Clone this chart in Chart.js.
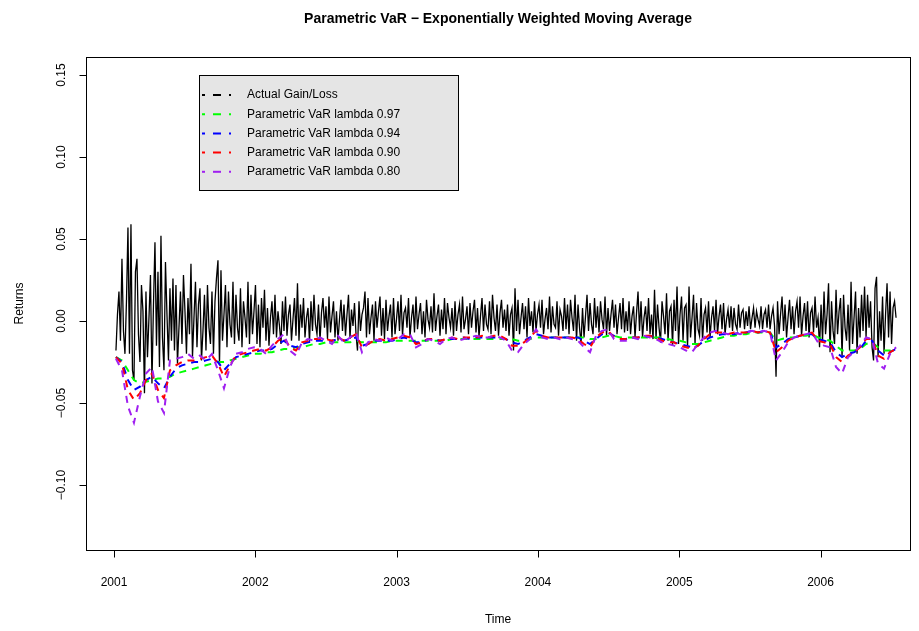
<!DOCTYPE html>
<html>
<head>
<meta charset="utf-8">
<script src="https://cdn.jsdelivr.net/npm/chart.js@4"></script>
<style>
  body { margin: 0; background: #fff; }
  canvas { display: block; }
</style>
</head>
<body>
<canvas id="var-chart" width="919" height="631"></canvas>
<script>
// daily series, regular time step (years)
const plStart = 2001.014
const plStep = 0.010616
const varStart = 2001.014
const varStep = 0.042463

const actualGainLoss = [
  -0.018, 0.004, 0.018, -0.012, 0.038, -0.006, -0.020, 0.012, 0.057, -0.020, 0.059, -0.030, -0.036, 0.030, 0.038, -0.008, -0.025, 0.022, 0.006, -0.044,
  0.018, -0.022, 0.002, 0.028, -0.038, 0.010, 0.048, -0.015, 0.030, -0.028, 0.052, -0.010, -0.030, 0.036, 0.004, -0.024, 0.020, -0.012, 0.026, -0.018,
  0.022, -0.026, -0.004, 0.018, -0.014, 0.028, 0.006, -0.020, 0.014, -0.008, 0.035, -0.022, 0.002, 0.024, -0.016, 0.010, 0.020, -0.024, -0.006, 0.016,
  -0.018, 0.022, -0.004, -0.014, 0.018, -0.020, 0.012, 0.026, 0.037, -0.027, 0.031, -0.012, 0.004, 0.022, -0.016, 0.018, -0.002, -0.010, 0.024, -0.014,
  0.016, -0.004, -0.012, 0.020, -0.016, 0.012, 0.002, -0.010, 0.024, -0.014, 0.016, -0.008, 0.006, 0.022, -0.014, 0.010, -0.016, 0.014, -0.004, 0.019,
  -0.012, 0.008, -0.015, 0.002, 0.012, -0.008, 0.016, -0.010, 0.006, -0.003, -0.014, 0.012, -0.006, 0.015, -0.009, 0.004, 0.010, -0.012, 0.001, 0.014,
  -0.009, 0.023, -0.012, 0.010, -0.004, 0.014, -0.010, 0.002, 0.008, -0.013, 0.012, -0.006, 0.016, -0.002, -0.008, 0.010, -0.012, 0.005, 0.014, -0.004,
  0.009, -0.011, 0.015, -0.007, 0.003, 0.012, -0.010, 0.006, -0.012, 0.001, 0.013, -0.006, 0.010, -0.009, 0.004, 0.016, -0.011, 0.007, -0.003, 0.011,
  -0.008, -0.018, 0.012, -0.006, 0.004, 0.008, 0.018, -0.010, 0.014, -0.008, 0.002, 0.010, -0.012, 0.012, -0.004, 0.006, 0.015, -0.009, 0.008, -0.011,
  0.013, -0.006, 0.003, 0.010, -0.010, 0.014, -0.008, 0.001, 0.012, -0.006, 0.016, -0.009, 0.005, 0.008, -0.004, 0.014, -0.010, 0.002, 0.010, -0.007,
  0.015, -0.005, 0.004, 0.011, -0.008, 0.006, -0.010, 0.013, 0.001, -0.004, 0.009, -0.007, 0.017, -0.006, 0.003, 0.010, -0.009, 0.007, -0.005, 0.014,
  -0.008, 0.011, 0.002, -0.004, 0.008, -0.009, 0.012, -0.006, 0.004, 0.010, -0.007, 0.015, -0.005, 0.001, 0.009, -0.008, 0.011, -0.004, 0.006, 0.013,
  -0.007, 0.008, -0.010, 0.003, 0.014, -0.006, 0.010, -0.002, -0.005, 0.012, -0.008, 0.016, 0.002, -0.006, 0.010, -0.009, 0.005, 0.013, -0.004, 0.007,
  -0.006, 0.010, -0.009, 0.004, 0.008, -0.018, 0.020, -0.006, 0.013, -0.008, 0.002, 0.011, -0.005, 0.009, -0.010, 0.014, -0.003, 0.006, -0.007, 0.012,
  -0.006, 0.004, 0.010, -0.004, 0.013, -0.008, 0.001, 0.008, -0.005, 0.015, -0.007, 0.009, -0.002, -0.004, 0.012, -0.009, 0.007, 0.003, -0.006, 0.014,
  -0.005, 0.010, -0.008, 0.013, 0.002, -0.006, 0.016, -0.012, 0.010, -0.004, -0.014, 0.008, -0.010, 0.003, 0.016, -0.006, 0.011, -0.002, -0.008, 0.014,
  -0.004, 0.009, -0.007, 0.012, 0.001, -0.005, 0.015, -0.009, 0.008, -0.006, 0.004, 0.013, -0.004, 0.010, -0.008, 0.002, 0.011, -0.005, 0.014, -0.007,
  0.006, -0.006, 0.012, -0.008, 0.003, 0.009, -0.010, 0.005, 0.018, -0.006, 0.012, -0.010, 0.002, 0.009, -0.006, 0.014, -0.008, 0.004, -0.011, 0.019,
  -0.011, 0.010, -0.004, -0.013, 0.012, 0.003, -0.008, 0.017, -0.012, 0.006, 0.009, -0.015, 0.013, -0.006, 0.021, -0.014, 0.004, 0.015, -0.012, 0.008,
  0.010, -0.016, 0.021, -0.010, 0.002, 0.016, -0.014, 0.011, -0.005, -0.009, 0.014, -0.012, 0.004, 0.008, -0.007, 0.012, -0.010, 0.002, 0.009, -0.006,
  0.013, -0.008, 0.003, 0.010, -0.005, 0.011, -0.008, 0.001, 0.007, -0.004, 0.009, -0.006, 0.008, -0.002, -0.005, 0.010, -0.004, 0.005, 0.007, -0.005,
  0.006, -0.003, 0.009, -0.005, 0.002, 0.008, -0.004, 0.006, 0.001, -0.003, 0.009, -0.005, 0.004, 0.007, -0.004, 0.010, -0.005, 0.003, 0.008, -0.003,
  -0.034, 0.012, -0.008, 0.004, 0.015, -0.006, 0.010, -0.010, 0.002, 0.013, -0.005, 0.009, -0.008, 0.006, 0.012, -0.004, 0.015, -0.009, 0.003, 0.011,
  -0.006, 0.012, -0.010, 0.005, 0.008, -0.007, 0.015, -0.004, 0.002, -0.016, 0.010, -0.012, 0.018, -0.008, 0.004, 0.023, -0.019, 0.012, -0.006, -0.014,
  0.019, -0.008, 0.006, 0.014, -0.022, 0.016, -0.004, -0.012, 0.010, -0.018, 0.024, -0.014, 0.002, 0.018, -0.020, 0.008, -0.010, 0.016, -0.006, 0.021,
  -0.010, 0.016, -0.004, 0.012, -0.016, -0.024, 0.020, 0.027, -0.022, 0.006, -0.012, 0.015, -0.020, 0.004, 0.023, -0.010, 0.018, -0.014, 0.008, 0.012,
  0.002
]

const var097 = [
  -0.022, -0.024, -0.030, -0.036, -0.038, -0.037, -0.036, -0.035, -0.035, -0.034, -0.032, -0.031,
  -0.030, -0.029, -0.028, -0.027, -0.026, -0.025, -0.025, -0.024, -0.023, -0.022, -0.021, -0.020,
  -0.020, -0.019, -0.019, -0.018, -0.017, -0.017, -0.016, -0.016, -0.015, -0.014, -0.014, -0.013,
  -0.013, -0.013, -0.013, -0.013, -0.012, -0.013, -0.013, -0.013, -0.013, -0.013, -0.012, -0.012,
  -0.012, -0.012, -0.012, -0.012, -0.012, -0.012, -0.012, -0.012, -0.011, -0.011, -0.011, -0.011,
  -0.011, -0.011, -0.011, -0.011, -0.011, -0.011, -0.011, -0.012, -0.012, -0.011, -0.010, -0.010, -0.010,
  -0.010, -0.010, -0.010, -0.010, -0.010, -0.010, -0.011, -0.011, -0.010, -0.009, -0.009, -0.010,
  -0.010, -0.010, -0.010, -0.010, -0.010, -0.010, -0.010, -0.011, -0.012, -0.012, -0.013, -0.014,
  -0.014, -0.013, -0.012, -0.011, -0.010, -0.009, -0.009, -0.008, -0.008,
  -0.007, -0.007, -0.007, -0.007, -0.012, -0.011, -0.010, -0.010, -0.009, -0.009, -0.008, -0.010,
  -0.011, -0.012, -0.015, -0.018, -0.018, -0.018, -0.017, -0.014, -0.013, -0.016, -0.018, -0.018, -0.017
]

const var094 = [
  -0.022, -0.025, -0.036, -0.042, -0.040, -0.036, -0.034, -0.038, -0.041, -0.034, -0.029, -0.027,
  -0.026, -0.025, -0.025, -0.024, -0.023, -0.025, -0.030, -0.026, -0.022, -0.021, -0.020, -0.019,
  -0.018, -0.018, -0.017, -0.014, -0.012, -0.015, -0.016, -0.014, -0.013, -0.012, -0.012, -0.012,
  -0.012, -0.011, -0.012, -0.011, -0.010, -0.015, -0.014, -0.012, -0.012, -0.012, -0.012, -0.011,
  -0.010, -0.011, -0.013, -0.013, -0.011, -0.011, -0.012, -0.011, -0.011, -0.011, -0.010, -0.011,
  -0.010, -0.010, -0.010, -0.010, -0.010, -0.011, -0.013, -0.014, -0.012, -0.010, -0.008, -0.009, -0.010,
  -0.010, -0.010, -0.010, -0.010, -0.010, -0.012, -0.014, -0.011, -0.008, -0.007, -0.009, -0.011,
  -0.011, -0.010, -0.010, -0.010, -0.009, -0.010, -0.011, -0.012, -0.013, -0.014, -0.015, -0.016,
  -0.015, -0.012, -0.010, -0.009, -0.008, -0.008, -0.008, -0.007, -0.007,
  -0.006, -0.007, -0.006, -0.007, -0.016, -0.014, -0.011, -0.010, -0.009, -0.008, -0.008, -0.011,
  -0.012, -0.013, -0.019, -0.022, -0.020, -0.019, -0.017, -0.012, -0.012, -0.018, -0.021, -0.019, -0.017
]

const var090 = [
  -0.022, -0.026, -0.042, -0.048, -0.044, -0.036, -0.032, -0.042, -0.047, -0.030, -0.027, -0.025,
  -0.024, -0.024, -0.023, -0.022, -0.021, -0.026, -0.034, -0.027, -0.021, -0.020, -0.019, -0.018,
  -0.017, -0.018, -0.016, -0.012, -0.010, -0.016, -0.018, -0.013, -0.012, -0.011, -0.011, -0.011,
  -0.012, -0.010, -0.012, -0.010, -0.008, -0.016, -0.014, -0.012, -0.011, -0.012, -0.011, -0.010,
  -0.009, -0.010, -0.014, -0.013, -0.011, -0.011, -0.012, -0.011, -0.010, -0.011, -0.010, -0.010,
  -0.010, -0.009, -0.010, -0.009, -0.009, -0.011, -0.015, -0.015, -0.013, -0.010, -0.006, -0.009, -0.010,
  -0.010, -0.010, -0.010, -0.010, -0.011, -0.014, -0.016, -0.010, -0.007, -0.006, -0.010, -0.011,
  -0.011, -0.010, -0.010, -0.009, -0.009, -0.010, -0.012, -0.013, -0.013, -0.015, -0.016, -0.017,
  -0.015, -0.011, -0.008, -0.007, -0.007, -0.008, -0.007, -0.007, -0.007,
  -0.006, -0.007, -0.006, -0.007, -0.019, -0.016, -0.012, -0.010, -0.009, -0.008, -0.007, -0.012,
  -0.013, -0.014, -0.022, -0.025, -0.021, -0.019, -0.016, -0.011, -0.011, -0.021, -0.023, -0.019, -0.017
]

const var080 = [
  -0.023, -0.030, -0.052, -0.062, -0.046, -0.032, -0.028, -0.049, -0.056, -0.024, -0.023, -0.022,
  -0.020, -0.023, -0.021, -0.024, -0.020, -0.030, -0.041, -0.028, -0.020, -0.019, -0.017, -0.016,
  -0.017, -0.020, -0.015, -0.011, -0.008, -0.018, -0.021, -0.013, -0.011, -0.012, -0.010, -0.012,
  -0.014, -0.009, -0.013, -0.010, -0.007, -0.019, -0.013, -0.011, -0.012, -0.010, -0.012, -0.011,
  -0.008, -0.008, -0.016, -0.014, -0.011, -0.012, -0.014, -0.011, -0.010, -0.012, -0.011, -0.010,
  -0.009, -0.010, -0.010, -0.009, -0.010, -0.012, -0.018, -0.019, -0.014, -0.011, -0.005, -0.010, -0.011,
  -0.010, -0.011, -0.010, -0.011, -0.012, -0.016, -0.019, -0.009, -0.006, -0.005, -0.011, -0.012,
  -0.012, -0.010, -0.011, -0.009, -0.010, -0.011, -0.013, -0.014, -0.015, -0.016, -0.018, -0.019,
  -0.014, -0.010, -0.007, -0.006, -0.007, -0.008, -0.007, -0.008, -0.007,
  -0.006, -0.007, -0.006, -0.007, -0.024, -0.019, -0.013, -0.010, -0.009, -0.008, -0.007, -0.013,
  -0.015, -0.016, -0.028, -0.032, -0.022, -0.019, -0.015, -0.010, -0.011, -0.026, -0.029, -0.020, -0.016
]

const yearTicks = [2001, 2002, 2003, 2004, 2005, 2006]
const returnTicks = [-0.10, -0.05, 0.00, 0.05, 0.10, 0.15]
const returnTickLabels = ["\u22120.10", "\u22120.05", "0.00", "0.05", "0.10", "0.15"]

const seriesNames = [
  "Actual Gain/Loss",
  "Parametric VaR lambda 0.97",
  "Parametric VaR lambda 0.94",
  "Parametric VaR lambda 0.90",
  "Parametric VaR lambda 0.80"
]
const seriesColors = ["#000000", "#00ff00", "#0000ff", "#ff0000", "#a020f0"]

const FONT = "Liberation Sans, Arial, Helvetica, sans-serif"

function toPoints(values, start, step) {
  return values.map((v, i) => ({x: start + i * step, y: v}))
}

function varDataset(idx, values) {
  return {
    label: seriesNames[idx],
    data: toPoints(values, varStart, varStep),
    borderColor: seriesColors[idx],
    borderWidth: 2,
    borderDash: [7, 6],
    order: 5 - idx
  }
}

// R style frame, axes, title and legend
const rAxesPlugin = {
  id: "rAxes",
  afterDraw(chart) {
    const ctx = chart.ctx
    const area = chart.chartArea
    const xs = chart.scales.x
    const ys = chart.scales.y
    ctx.save()
    ctx.strokeStyle = "#000"
    ctx.fillStyle = "#000"
    ctx.lineWidth = 1
    ctx.setLineDash([])

    // box
    ctx.strokeRect(Math.round(area.left) + 0.5, Math.round(area.top) + 0.5,
      Math.round(area.right - area.left), Math.round(area.bottom - area.top))

    // x axis
    ctx.font = "12px " + FONT
    ctx.textAlign = "center"
    ctx.textBaseline = "middle"
    const xb = Math.round(area.bottom) + 0.5
    ctx.beginPath()
    ctx.moveTo(xs.getPixelForValue(yearTicks[0]), xb)
    ctx.lineTo(xs.getPixelForValue(yearTicks[yearTicks.length - 1]), xb)
    yearTicks.forEach((yr) => {
      const px = Math.round(xs.getPixelForValue(yr)) + 0.5
      ctx.moveTo(px, xb)
      ctx.lineTo(px, xb + 7)
    })
    ctx.stroke()
    yearTicks.forEach((yr) => {
      ctx.fillText(String(yr), xs.getPixelForValue(yr), area.bottom + 33)
    })

    // y axis
    const xl = Math.round(area.left) + 0.5
    ctx.beginPath()
    ctx.moveTo(xl, ys.getPixelForValue(returnTicks[0]))
    ctx.lineTo(xl, ys.getPixelForValue(returnTicks[returnTicks.length - 1]))
    returnTicks.forEach((v) => {
      const py = Math.round(ys.getPixelForValue(v)) + 0.5
      ctx.moveTo(xl, py)
      ctx.lineTo(xl - 7, py)
    })
    ctx.stroke()
    returnTicks.forEach((v, i) => {
      ctx.save()
      ctx.translate(area.left - 24, ys.getPixelForValue(v))
      ctx.rotate(-Math.PI / 2)
      ctx.fillText(returnTickLabels[i], 0, 0)
      ctx.restore()
    })

    // axis titles
    const cx = (area.left + area.right) / 2
    ctx.fillText("Time", cx, area.bottom + 70)
    ctx.save()
    ctx.translate(20, (area.top + area.bottom) / 2)
    ctx.rotate(-Math.PI / 2)
    ctx.fillText("Returns", 0, 0)
    ctx.restore()

    // main title
    ctx.font = "bold 14px " + FONT
    ctx.fillText("Parametric VaR \u2212 Exponentially Weighted Moving Average", cx, 19)

    // legend
    const lx = 199, ly = 75, lw = 259, lh = 115
    ctx.fillStyle = "#e5e5e5"
    ctx.fillRect(lx, ly, lw, lh)
    ctx.strokeStyle = "#000"
    ctx.strokeRect(lx + 0.5, ly + 0.5, lw, lh)
    ctx.font = "12px " + FONT
    ctx.textAlign = "left"
    seriesNames.forEach((name, i) => {
      const rowY = 95 + i * 19.2
      ctx.strokeStyle = seriesColors[i]
      ctx.lineWidth = 2
      ctx.setLineDash([8, 8])
      ctx.lineDashOffset = 5
      ctx.beginPath()
      ctx.moveTo(202, rowY)
      ctx.lineTo(231, rowY)
      ctx.stroke()
      ctx.setLineDash([])
      ctx.fillStyle = "#000"
      ctx.fillText(name, 247, rowY)
    })
    ctx.restore()
  }
}

function buildChart() {
  const canvas = document.getElementById("var-chart")
  const datasets = [
    {
      label: seriesNames[0],
      data: toPoints(actualGainLoss, plStart, plStep),
      borderColor: seriesColors[0],
      borderWidth: 1.3,
      order: 5
    },
    varDataset(1, var097),
    varDataset(2, var094),
    varDataset(3, var090),
    varDataset(4, var080)
  ]

  return new Chart(canvas, {
    type: "line",
    data: {datasets: datasets},
    options: {
      responsive: false,
      animation: false,
      devicePixelRatio: 1,
      layout: {padding: {left: 86, right: 9, top: 57, bottom: 81}},
      elements: {
        point: {radius: 0},
        line: {tension: 0, fill: false}
      },
      scales: {
        x: {type: "linear", min: 2000.802, max: 2006.633, display: false},
        y: {type: "linear", min: -0.1396, max: 0.1610, display: false}
      },
      plugins: {
        legend: {display: false},
        tooltip: {enabled: false}
      }
    },
    plugins: [rAxesPlugin]
  })
}

buildChart()
</script>
</body>
</html>
